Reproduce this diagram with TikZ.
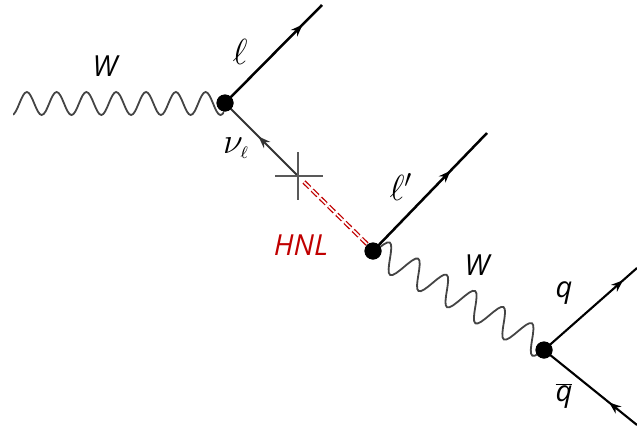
\documentclass[tikz,border=0pt]{standalone}
\usepackage{fontspec}
\setmainfont{Open Sans}
\usetikzlibrary{decorations.pathmorphing,decorations.markings,arrows.meta}
\definecolor{wavegrey}{HTML}{444444}
\definecolor{hnlred}{HTML}{C00000}
\tikzset{
  vertexdot/.style={circle,fill=black,minimum size=17pt,inner sep=0pt},
  fermion/.style={draw=black,line width=2.5pt},
  qline/.style={draw=black,line width=2.1pt},
  thinfermion/.style={draw=black!80,line width=1.8pt},
  midarrow/.style={postaction={decorate},decoration={markings,mark=at position #1 with {\arrow{Stealth[length=12pt,width=9pt]}}}},
  wave/.style={draw=wavegrey,line width=1.8pt,decorate},
  crossbar/.style={draw=black!65,line width=1.8pt},
  hnlline/.style={draw=hnlred,line width=1.3pt,double=white,double distance=1.7pt,dash pattern=on 8pt off 3.5pt},
  lab/.style={inner sep=0pt,font=\fontsize{29}{31}\selectfont\itshape},
  mlab/.style={inner sep=0pt,font=\fontsize{17}{19}\selectfont,scale=2.1}
}
\begin{document}
\begin{tikzpicture}[x=1pt,y=-1pt]
\useasboundingbox (0,0) rectangle (637,434);
\coordinate (wa) at (-12.3,103.5);
\coordinate (wb) at (255.9,103.5);
\coordinate (wc) at (345.5,233.5);
\coordinate (wd) at (573.5,362.9);
\coordinate (lend) at (322,5);
\coordinate (lpend) at (487,133);
\coordinate (qend) at (637,268);
\coordinate (qbend) at (637,425);
\coordinate (cl) at (275,176);
\coordinate (cr) at (323,176);
\coordinate (ct) at (298,152);
\coordinate (cb) at (298,200);
\coordinate (cc) at (298,176);
\coordinate (ha) at (304,182);
\coordinate (hb) at (367,244);
\node[vertexdot] (v1) at (225,103) {};
\node[vertexdot] (v2) at (373,251) {};
\node[vertexdot] (v3) at (544,350) {};
\begin{scope}
\clip (13,0) rectangle (224,434);
\draw[wave,decoration={snake,segment length=29.8pt,amplitude=11.5pt}] (wa) -- (wb);
\end{scope}
\begin{scope}
\clip (374,0) rectangle (540,434);
\draw[wave,decoration={snake,segment length=32.7pt,amplitude=14pt}] (wc) -- (wd);
\end{scope}
\draw[fermion,midarrow=0.8] (v1.center) -- (lend);
\draw[fermion,midarrow=0.68] (v2.center) -- (lpend);
\draw[qline,midarrow=0.85] (v3.center) -- (qend);
\draw[qline,midarrow=0.3] (qbend) -- (v3.center);
\draw[thinfermion,midarrow=0.54] (cc) -- (v1.center);
\draw[crossbar] (cl) -- (cr);
\draw[crossbar] (ct) -- (cb);
\draw[hnlline] (ha) -- (hb);
\node[vertexdot] at (v1) {};
\node[vertexdot] at (v2) {};
\node[vertexdot] at (v3) {};
\node[lab] (tw1) at (105,66) {W};
\node[mlab] (tl) at (240,52) {$\ell$};
\node[mlab] (tn) at (236,148) {$\nu_{\scriptscriptstyle\ell}$};
\node[mlab] (tlp) at (401,187) {$\ell'$};
\node[lab,text=hnlred] (th) at (301,245) {HNL};
\node[lab] (tw2) at (477,265) {W};
\node[lab] (tq) at (564,293) {q};
\node[lab] (tqb) at (564,396) {$\overline{\textit{q}}$};
\end{tikzpicture}
\end{document}
